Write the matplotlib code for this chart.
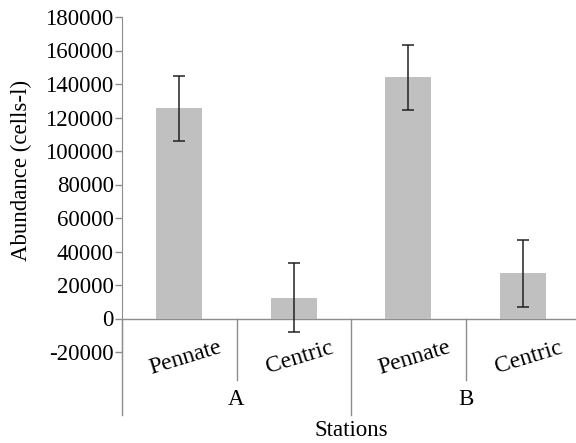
import numpy as np
import matplotlib
matplotlib.use("Agg")
import matplotlib.pyplot as plt
import matplotlib.transforms as mtransforms

# data
stations = ["A", "B"]
groups = ["Pennate", "Centric", "Pennate", "Centric"]
abundance = [125500, 12500, 144000, 27000]
errors = [19500, 20500, 19500, 20000]

plt.rcParams["font.family"] = ["Liberation Serif", "DejaVu Serif"]
fs = 16.5
grey = "#8c8c8c"

fig = plt.figure(figsize=(5.76, 4.43), dpi=100)
ax = fig.add_axes([122/576, 1-352/443, 458/576, 335/443])

x = np.arange(len(groups))
ax.bar(x, abundance, width=0.4, color="#c0c0c0", zorder=2)
ax.errorbar(x, abundance, yerr=errors, fmt="none", ecolor="#222222",
  elinewidth=1.1, capsize=4, capthick=1.1, zorder=3)

ax.set_xlim(-0.5, 3.5)
ax.set_ylim(-20000, 180000)
ax.set_yticks(np.arange(-20000, 180001, 20000))
ax.set_yticklabels([str(v) if v >= 0 else "-" + str(-v) for v in range(-20000, 180001, 20000)])
ax.tick_params(axis="y", labelsize=fs, color=grey, length=5, width=1, pad=1)
ax.set_xticks([])

for s in ["top", "right", "bottom"]:
  ax.spines[s].set_visible(False)
ax.spines["left"].set_color(grey)
ax.axhline(0, color=grey, lw=1, zorder=1)

trans = mtransforms.blended_transform_factory(ax.transData, ax.transAxes)
yzero = ax.transLimits.transform((0, 0))[1]
# separators below the zero line
for xs, ybot in [(-0.5, -0.188), (0.5, -0.084), (1.5, -0.188), (2.5, -0.084), (3.5, -0.188)]:
  ax.plot([xs, xs], [yzero, ybot], transform=trans, color=grey, lw=1, clip_on=False)

for xi, g in zip(x, groups):
  ax.text(xi + 0.05, -0.018, g, transform=trans, rotation=17, ha="center", va="center", fontsize=17)

for i, st in enumerate(stations):
  ax.text(2*i + 0.5, -0.143, st, transform=trans, ha="center", va="center", fontsize=fs)

ax.text(1.5, -0.233, "Stations", transform=trans, ha="center", va="center", fontsize=fs)
fig.text(21/576, 1-170/443, "Abundance (cells-l)", rotation=90, ha="center", va="center", fontsize=fs)

fig.savefig("out.png", dpi=100)
